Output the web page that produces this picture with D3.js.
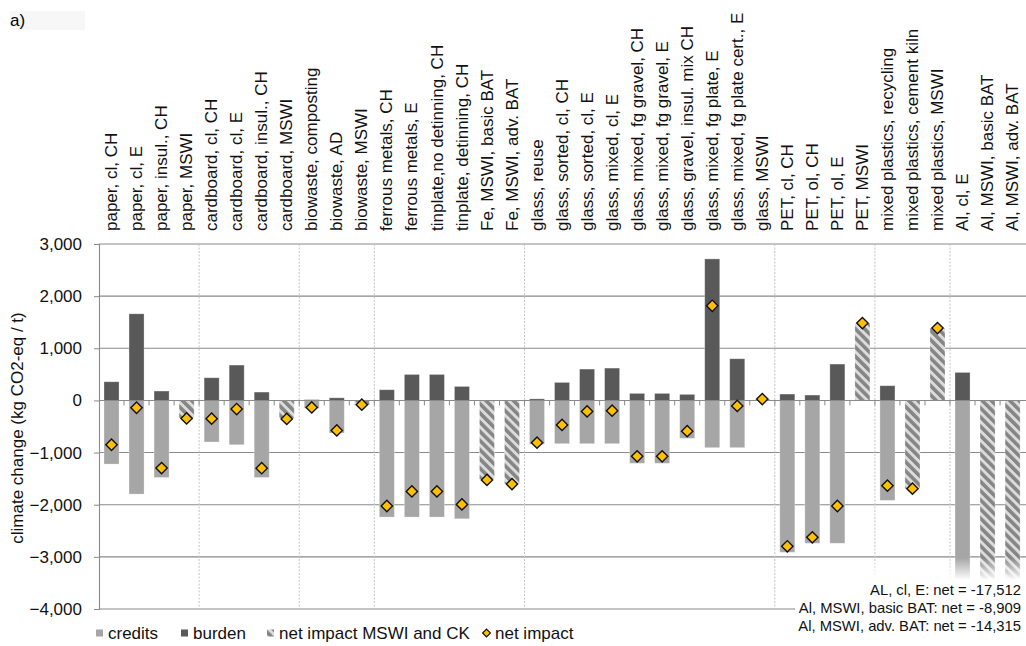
<!DOCTYPE html>
<html><head><meta charset="utf-8">
<script src="https://cdn.jsdelivr.net/npm/d3@7"></script>
<style>
html,body{margin:0;padding:0;background:#fff;}
svg{display:block;font-family:"Liberation Sans",Arial,sans-serif;}
</style></head>
<body><svg id="c" width="1026" height="646"></svg>
<script>
const categories = ["paper, cl, CH","paper, cl, E","paper, insul., CH","paper, MSWI","cardboard, cl, CH","cardboard, cl, E","cardboard, insul., CH","cardboard, MSWI","biowaste, composting","biowaste, AD","biowaste, MSWI","ferrous metals, CH","ferrous metals, E","tinplate,no detinning, CH","tinplate, detinning, CH","Fe, MSWI, basic BAT","Fe, MSWI, adv. BAT","glass, reuse","glass, sorted, cl, CH","glass, sorted, cl, E","glass, mixed, cl, E","glass, mixed, fg gravel, CH","glass, mixed, fg gravel, E","glass, gravel, insul. mix CH","glass, mixed, fg plate, E","glass, mixed, fg plate cert., E","glass, MSWI","PET, cl, CH","PET, ol, CH","PET, ol, E","PET, MSWI","mixed plastics, recycling","mixed plastics, cement kiln","mixed plastics, MSWI","Al, cl, E","Al, MSWI, basic BAT","Al, MSWI, adv. BAT"];
const credits = [-1220,-1796,-1477,0,-797,-850,-1477,0,-150,-625,0,-2237,-2237,-2237,-2270,0,0,-840,-830,-830,-830,-1206,-1206,-727,-906,-906,0,-2912,-2739,-2739,0,-1916,0,0,-18049,0,0];
const burden = [358,1661,180,0,435,678,160,0,15,50,0,205,498,498,268,0,0,30,345,601,620,135,135,116,2714,799,0,122,103,697,0,282,0,0,537,0,0];
const mswiCK = [0,0,0,-337,0,0,0,-340,0,0,-90,0,0,0,0,-1510,-1600,0,0,0,0,0,0,0,0,0,25,0,0,0,1483,0,-1692,1387,0,-8909,-14315];
const netImpact = [-850,-140,-1297,-345,-350,-165,-1300,-355,-134,-575,-82,-2025,-1745,-1745,-1995,-1525,-1605,-810,-470,-210,-197,-1072,-1072,-590,1815,-105,26,-2797,-2625,-2025,1483,-1634,-1692,1387,-17512,-8909,-14315];
const yTicks = [-4000,-3000,-2000,-1000,0,1000,2000,3000];
const groupEnds = [4,8,11,17,27,31,34];
const legendItems = ["credits","burden","net impact MSWI and CK","net impact"];
const notes = ["AL, cl, E: net = -17,512","Al, MSWI, basic BAT: net = -8,909","Al, MSWI, adv. BAT: net = -14,315"];

const svg = d3.select("#c");
const L = 99, R = 1025.1, T = 244, B = 609;
const x = d3.scaleBand().domain(categories).range([L, R]).paddingInner(0.4).paddingOuter(0.2);
const y = d3.scaleLinear().domain([-4000, 3000]).range([B, T]);
const clipV = -3430;
const cy = v => y(Math.max(v, clipV));
const boundary = i => L + i * x.step();
const FS = 17;

const defs = svg.append("defs");
const pat = defs.append("pattern").attr("id","hatch").attr("patternUnits","userSpaceOnUse")
  .attr("width",6.5).attr("height",6.5).attr("patternTransform","rotate(-45)");
pat.append("rect").attr("width",6.5).attr("height",6.5).attr("fill","#dcdcdc");
pat.append("rect").attr("width",3.6).attr("height",6.5).attr("fill","#858585");
const fg = defs.append("linearGradient").attr("id","fade").attr("x1",0).attr("y1",0).attr("x2",0).attr("y2",1);
fg.append("stop").attr("offset","0").attr("stop-color","#fff").attr("stop-opacity",0);
fg.append("stop").attr("offset","1").attr("stop-color","#fff").attr("stop-opacity",1);

// "a)" label
svg.append("rect").attr("x",10).attr("y",11).attr("width",75).attr("height",19).attr("fill","#f7f7f7");
svg.append("text").attr("x",10).attr("y",26).attr("font-size",FS).text("a)");

// gridlines
svg.append("g").selectAll("line").data(yTicks).join("line")
  .attr("x1",L).attr("x2",1026).attr("y1",d=>y(d)).attr("y2",d=>y(d))
  .attr("stroke","#8a8a8a").attr("stroke-width",1.1);

// group separators
svg.append("g").selectAll("line").data(groupEnds).join("line")
  .attr("x1",d=>boundary(d)).attr("x2",d=>boundary(d)).attr("y1",T).attr("y2",B)
  .attr("stroke","#c4c4c4").attr("stroke-width",1).attr("stroke-dasharray","2,1.5");

// y axis
const yAxis = d3.axisLeft(y).tickValues(yTicks).tickFormat(d3.format(",")).tickSize(5).tickPadding(12);
const ya = svg.append("g").attr("transform",`translate(${L},0)`).call(yAxis);
ya.select(".domain").attr("stroke","#8a8a8a").attr("stroke-width",1.1);
ya.selectAll(".tick line").attr("stroke","#8a8a8a");
ya.selectAll(".tick text").attr("font-size",FS).attr("font-family","Liberation Sans, Arial, sans-serif").attr("fill","#111");

svg.append("text").attr("transform",`translate(23,428) rotate(-90)`).attr("text-anchor","middle")
  .attr("font-size",FS).attr("fill","#111").text("climate change (kg CO2-eq / t)");

// category labels
svg.append("g").selectAll("text").data(categories).join("text")
  .attr("transform",d=>`translate(${x(d)+x.bandwidth()/2},231) rotate(-90)`)
  .attr("dy","0.33em").attr("font-size",FS).attr("fill","#111").text(d=>d);

// bars
function bars(arr, fill){
  svg.append("g").selectAll("rect").data(categories.map((c,i)=>({c,v:arr[i]})).filter(d=>d.v!==0)).join("rect")
    .attr("x",d=>x(d.c)).attr("width",x.bandwidth())
    .attr("y",d=>Math.min(cy(d.v),y(0))).attr("height",d=>Math.abs(cy(d.v)-y(0)))
    .attr("fill",fill).attr("stroke","rgba(255,255,255,0.35)").attr("stroke-width",0.8);
}
bars(credits,"#a6a6a6");
bars(burden,"#595959");
bars(mswiCK,"url(#hatch)");

// zero axis with category ticks
const xa = svg.append("g").attr("transform",`translate(0,${y(0)})`);
xa.append("line").attr("x1",L).attr("x2",1026).attr("stroke","#8a8a8a").attr("stroke-width",1.1);
xa.selectAll("line.t").data(d3.range(1,37)).join("line").attr("class","t")
  .attr("x1",d=>boundary(d)).attr("x2",d=>boundary(d)).attr("y1",0).attr("y2",5)
  .attr("stroke","#8a8a8a");

// net impact diamonds
const diamond = d3.symbol().type(d3.symbolSquare).size(64);
svg.append("g").selectAll("path").data(categories.map((c,i)=>({c,v:netImpact[i]})).filter(d=>d.v>=-4000)).join("path")
  .attr("d",diamond)
  .attr("transform",d=>`translate(${x(d.c)+x.bandwidth()/2},${y(d.v)}) rotate(45)`)
  .attr("fill","#ffc000").attr("stroke","#111").attr("stroke-width",1.4);

// fade of clipped bars + note box
svg.append("rect").attr("x",860).attr("y",y(-3000)+1).attr("width",166).attr("height",cy(clipV)-y(-3000)).attr("fill","url(#fade)");
svg.append("rect").attr("x",795).attr("y",cy(clipV)).attr("width",231).attr("height",640-cy(clipV)).attr("fill","#fff");
svg.append("g").selectAll("text").data(notes).join("text")
  .attr("x",1021).attr("y",(d,i)=>595+i*18).attr("text-anchor","end")
  .attr("font-size",14.8).attr("fill","#111").text(d=>d);

// legend
const lg = svg.append("g").attr("font-size",FS).attr("fill","#111");
const lx = [96,181,267,483];
const ly = 633;
lg.append("rect").attr("x",lx[0]).attr("y",ly-3.5).attr("width",7).attr("height",7).attr("fill","#a6a6a6");
lg.append("rect").attr("x",lx[1]).attr("y",ly-3.5).attr("width",7).attr("height",7).attr("fill","#595959");
lg.append("rect").attr("x",lx[2]).attr("y",ly-3.5).attr("width",7).attr("height",7).attr("fill","url(#hatch)");
lg.append("path").attr("d",d3.symbol().type(d3.symbolSquare).size(30))
  .attr("transform",`translate(${lx[3]+3.5},${ly}) rotate(45)`).attr("fill","#ffc000").attr("stroke","#111").attr("stroke-width",1.2);
lg.selectAll("text").data(legendItems).join("text")
  .attr("x",(d,i)=>lx[i]+12).attr("y",ly+6).text(d=>d);
</script></body></html>
